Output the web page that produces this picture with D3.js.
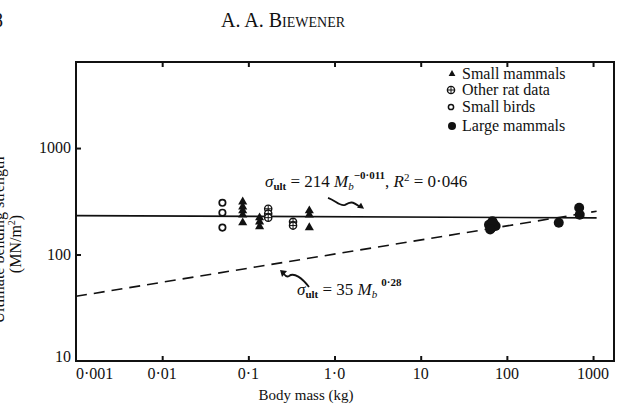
<!DOCTYPE html>
<html><head><meta charset="utf-8">
<script src="https://cdn.jsdelivr.net/npm/d3@7"></script>
<style>
body{margin:0;background:#fff}
svg{display:block}
text{font-family:"Liberation Serif","Times New Roman",serif;fill:#111}
</style></head>
<body><svg id="c" width="621" height="410"></svg>
<script>
// ---- data ----
const xTicks = [0.001, 0.01, 0.1, 1, 10, 100, 1000];
const xTickLabels = ["0·001", "0·01", "0·1", "1·0", "10", "100", "1000"];
const yTicks = [10, 100, 1000];
const yTickLabels = ["10", "100", "1000"];
const legendLabels = ["Small mammals", "Other rat data", "Small birds", "Large mammals"];
const smallMammalsMass = [0.086,0.086,0.086,0.086,0.086, 0.135,0.135,0.135, 0.51,0.51,0.51];
const smallMammalsStr  = [313,281,258,236,199, 222,203,183, 258,236,179];
const ratMass = [0.17,0.17,0.17, 0.33,0.33];
const ratStr  = [269,242,222, 203,187];
const birdMass = [0.05,0.05,0.05];
const birdStr  = [306,247,179];
const largeMass = [62,66,70,74,68,64, 400, 690,700];
const largeStr  = [190,178,195,185,205,172, 199, 275,236];
const fitMass = [0.001, 1100];
const fitStr  = [232, 221];
const predMass = [0.001, 1100];
const predStr  = [40.5, 255];

// ---- scales ----
const svg = d3.select("#c");
const L = 76, R = 614, T = 62, B = 361;
const x = d3.scaleLog().domain([0.001, 1750]).range([L, R]);
const y = d3.scaleLog().domain([10, 6430]).range([B, T]);
const ink = "#111";

// header
svg.append("text").attr("x", 3).attr("y", 27).attr("text-anchor","end").attr("font-size",20).text("8");
svg.append("text").attr("x", 283).attr("y", 27).attr("text-anchor","middle").attr("font-size",20)
  .style("font-variant","small-caps").text("A. A. Biewener");

// frame
svg.append("rect").attr("x",L).attr("y",T).attr("width",R-L).attr("height",B-T)
  .attr("fill","none").attr("stroke",ink).attr("stroke-width",2);

// axes (inward ticks)
const xAxisB = d3.axisBottom(x).tickValues(xTicks.slice(1)).tickSize(-5).tickFormat("");
svg.append("g").attr("transform",`translate(0,${B})`).call(xAxisB)
  .call(g=>{g.select(".domain").remove(); g.selectAll("line").attr("stroke",ink).attr("stroke-width",2);});
const xAxisT = d3.axisTop(x).tickValues(xTicks.slice(1)).tickSize(-5).tickFormat("");
svg.append("g").attr("transform",`translate(0,${T})`).call(xAxisT)
  .call(g=>{g.select(".domain").remove(); g.selectAll("line").attr("stroke",ink).attr("stroke-width",2);});
const yAxisL = d3.axisLeft(y).tickValues(yTicks.slice(1)).tickSize(-5).tickFormat("");
svg.append("g").attr("transform",`translate(${L},0)`).call(yAxisL)
  .call(g=>{g.select(".domain").remove(); g.selectAll("line").attr("stroke",ink).attr("stroke-width",2);});

// tick labels
svg.append("g").selectAll("text").data(xTicks).join("text")
  .attr("x",(d,i)=> i===0 ? L : x(d))
  .attr("y",379).attr("font-size",16)
  .attr("text-anchor",(d,i)=> i===0 ? "start":"middle")
  .text((d,i)=>xTickLabels[i]);
svg.append("g").selectAll("text").data(yTicks).join("text")
  .attr("x",71).attr("y",(d,i)=> i===0 ? y(d)+1 : y(d)+5)
  .attr("font-size",16).attr("text-anchor","end")
  .text((d,i)=>yTickLabels[i]);

// axis titles
svg.append("text").attr("x",306).attr("y",400).attr("text-anchor","middle").attr("font-size",15).text("Body mass (kg)");
const yt = svg.append("text").attr("transform","translate(4,240) rotate(-90)").attr("text-anchor","middle").attr("font-size",16);
yt.text("Ultimate bending strength");
const yt2 = svg.append("text").attr("transform","translate(21,244) rotate(-90)").attr("text-anchor","middle").attr("font-size",16);
yt2.append("tspan").text("(MN/m");
yt2.append("tspan").attr("font-size",10).attr("dy",-6).text("2");
yt2.append("tspan").attr("dy",6).text(")");

// lines
const line = d3.line().x(d=>x(d[0])).y(d=>y(d[1]));
svg.append("path").datum(fitMass.map((m,i)=>[m,fitStr[i]])).attr("d",line)
  .attr("fill","none").attr("stroke",ink).attr("stroke-width",1.6);
svg.append("path").datum(predMass.map((m,i)=>[m,predStr[i]])).attr("d",line)
  .attr("fill","none").attr("stroke",ink).attr("stroke-width",1.6).attr("stroke-dasharray","11,7");

// markers
const tri = d3.symbol().type(d3.symbolTriangle).size(36);
svg.append("g").selectAll("path").data(smallMammalsMass).join("path")
  .attr("d",tri).attr("transform",(d,i)=>`translate(${x(d)},${y(smallMammalsStr[i])})`).attr("fill",ink);
function ratMark(g){
  g.append("circle").attr("r",3.6).attr("fill","#fff").attr("stroke",ink).attr("stroke-width",1.4);
  g.append("line").attr("x1",-3.6).attr("x2",3.6).attr("stroke",ink).attr("stroke-width",1);
  g.append("line").attr("y1",-3.6).attr("y2",3.6).attr("stroke",ink).attr("stroke-width",1);
}
svg.append("g").selectAll("g").data(ratMass).join("g")
  .attr("transform",(d,i)=>`translate(${x(d)},${y(ratStr[i])})`).each(function(){ratMark(d3.select(this));});
svg.append("g").selectAll("circle").data(birdMass).join("circle")
  .attr("cx",d=>x(d)).attr("cy",(d,i)=>y(birdStr[i])).attr("r",3.2)
  .attr("fill","#fff").attr("stroke",ink).attr("stroke-width",1.7);
svg.append("g").selectAll("circle").data(largeMass).join("circle")
  .attr("cx",d=>x(d)).attr("cy",(d,i)=>y(largeStr[i])).attr("r",5).attr("fill",ink);

// legend
const lg = svg.append("g");
const legY = [79, 95, 112, 131];
legendLabels.forEach((t,i)=>{
  lg.append("text").attr("x",462).attr("y",legY[i]).attr("font-size",16).text(t);
  const cy = legY[i]-5;
  if(i===0) lg.append("path").attr("d",d3.symbol().type(d3.symbolTriangle).size(20)).attr("transform",`translate(452,${cy})`).attr("fill",ink);
  if(i===1) { const g = lg.append("g").attr("transform",`translate(451,${cy})`); ratMark(g); }
  if(i===2) lg.append("circle").attr("cx",451).attr("cy",cy).attr("r",2.6).attr("fill","#fff").attr("stroke",ink).attr("stroke-width",1.5);
  if(i===3) lg.append("circle").attr("cx",452).attr("cy",cy).attr("r",4).attr("fill",ink);
});

// equations
const e1 = svg.append("text").attr("x",265).attr("y",187).attr("font-size",17);
e1.append("tspan").attr("font-style","italic").text("σ");
e1.append("tspan").attr("font-size",11).attr("font-weight","bold").attr("dy",3).text("ult");
e1.append("tspan").attr("dy",-3).text(" = 214 ");
e1.append("tspan").attr("font-style","italic").text("M");
e1.append("tspan").attr("font-style","italic").attr("font-size",11).attr("dy",3).text("b");
e1.append("tspan").attr("font-size",11).attr("font-weight","bold").attr("dy",-11).text("−0·011");
e1.append("tspan").attr("dy",8).text(", ");
e1.append("tspan").attr("font-style","italic").text("R");
e1.append("tspan").attr("font-size",11).attr("dy",-6).text("2");
e1.append("tspan").attr("dy",6).text(" = 0·046");

const e2 = svg.append("text").attr("x",297).attr("y",295).attr("font-size",17);
e2.append("tspan").attr("font-style","italic").text("σ");
e2.append("tspan").attr("font-size",11).attr("font-weight","bold").attr("dy",3).text("ult");
e2.append("tspan").attr("dy",-3).text(" = 35 ");
e2.append("tspan").attr("font-style","italic").text("M");
e2.append("tspan").attr("font-style","italic").attr("font-size",11).attr("dy",3).text("b");
e2.append("tspan").attr("font-size",11).attr("font-weight","bold").attr("dy",-12).attr("dx",4).text("0·28");

// annotation arrows (anchored to the fitted lines)
const a1x = x(2.2), a1y = y(221) - 9;
svg.append("path").attr("d",`M${a1x-36},${a1y-11} C${a1x-28},${a1y-8} ${a1x-24},${a1y-2} ${a1x-19},${a1y-4} C${a1x-14},${a1y-7} ${a1x-12},${a1y-8} ${a1x-4},${a1y-2}`)
  .attr("fill","none").attr("stroke",ink).attr("stroke-width",1.8);
svg.append("path").attr("d",`M${a1x},${a1y} L${a1x-7},${a1y-1} L${a1x-3},${a1y-6} Z`).attr("fill",ink);
const a2x = x(0.233), a2y = 270;
svg.append("path").attr("d",`M${a2x+29},${a2y+17} C${a2x+22},${a2y+8} ${a2x+14},${a2y+2} ${a2x+9},${a2y+6} C${a2x+6},${a2y+8} ${a2x+4},${a2y+4} ${a2x+3},${a2y+3}`)
  .attr("fill","none").attr("stroke",ink).attr("stroke-width",1.8);
svg.append("path").attr("d",`M${a2x},${a2y} L${a2x+7},${a2y+1} L${a2x+2},${a2y+7} Z`).attr("fill",ink);
</script></body></html>
